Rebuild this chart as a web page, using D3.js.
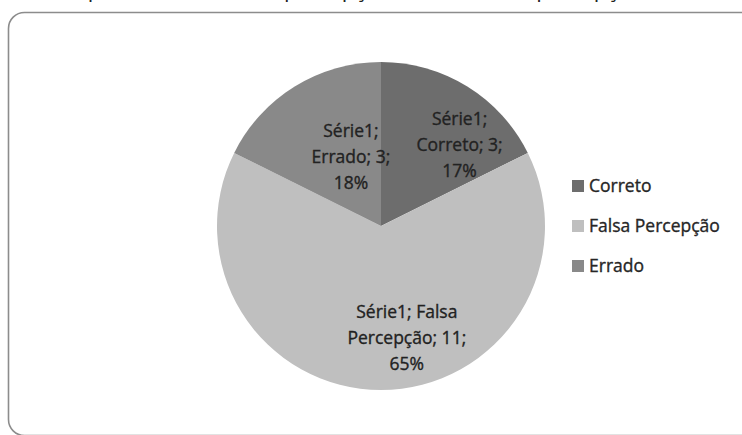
<!DOCTYPE html>
<html>
<head>
<meta charset="utf-8">
<script src="https://cdn.jsdelivr.net/npm/d3@7"></script>
<style>
  html, body { margin: 0; padding: 0; background: #fff; }
  svg { display: block; }
  text { font-family: "Open Sans", Lato, sans-serif; }
</style>
</head>
<body>
<svg id="chart" width="742" height="435"></svg>
<script>
// Respostas por categoria (Série1)
const categories = ["Correto", "Falsa Percepção", "Errado"];
const values = [3, 11, 3];
const percentLabels = ["17%", "65%", "18%"];
const seriesName = "Série1";
const titleText = "Gráfico 4 – Respostas dos alunos: percepção correta, falsa percepção ou erro na questão";

const sliceColors = ["#6d6d6d", "#bfbfbf", "#898989"];

const svg = d3.select("#chart");
const W = 742, H = 435;

// title running off the top edge
svg.append("text")
  .attr("x", W / 2 + 20)
  .attr("y", -3)
  .attr("text-anchor", "middle")
  .attr("font-size", 22)
  .attr("fill", "#222")
  .text(titleText);

// chart area frame
svg.append("rect")
  .attr("x", 8.5).attr("y", 12.5)
  .attr("width", 760).attr("height", 423)
  .attr("rx", 16).attr("ry", 16)
  .attr("fill", "#fff")
  .attr("stroke", "#8c8c8c")
  .attr("stroke-width", 1.6);

const cx = 381, cy = 226, R = 164;

const pie = d3.pie().sort(null).value(d => d.value);
const data = categories.map((c, i) => ({ name: c, value: values[i], pct: percentLabels[i], color: sliceColors[i] }));
const arcs = pie(data);
const arc = d3.arc().innerRadius(0).outerRadius(R);

const g = svg.append("g").attr("transform", `translate(${cx},${cy})`);

g.selectAll("path.slice")
  .data(arcs)
  .join("path")
  .attr("class", "slice")
  .attr("d", arc)
  .attr("fill", d => d.data.color);

// data labels: series; category; value; percentage
const labelLines = [
  d => [seriesName + ";", d.data.name + "; " + d.data.value + ";", d.data.pct],
  d => [seriesName + "; Falsa", "Percepção; " + d.data.value + ";", d.data.pct],
  d => [seriesName + ";", d.data.name + "; " + d.data.value + ";", d.data.pct]
];
// label anchor: angle (deg, clockwise from top) and distance from centre as share of radius
const labelAngle = [44, 167, -23.5];
const labelDist = [0.69, 0.70, 0.46];
const lineH = 26;

arcs.forEach((a, i) => {
  const ang = labelAngle[i] * Math.PI / 180;
  const r = R * labelDist[i];
  const x = Math.sin(ang) * r;
  const y = -Math.cos(ang) * r;
  const lines = labelLines[i](a);
  const t = g.append("text")
    .attr("text-anchor", "middle")
    .attr("font-size", 17.5)
    .attr("fill", "#222")
    .attr("stroke", "#222")
    .attr("stroke-width", 0.35);
  lines.forEach((ln, k) => {
    t.append("tspan")
      .attr("x", x)
      .attr("y", y + (k - (lines.length - 1) / 2) * lineH)
      .attr("dy", "0.35em")
      .text(ln);
  });
});

// legend
const legend = svg.append("g").attr("transform", "translate(572,186)");
const item = legend.selectAll("g.item")
  .data(data)
  .join("g")
  .attr("class", "item")
  .attr("transform", (d, i) => `translate(0,${i * 40})`);
item.append("rect")
  .attr("x", 0).attr("y", -6)
  .attr("width", 12).attr("height", 12)
  .attr("fill", d => d.color);
item.append("text")
  .attr("x", 17)
  .attr("y", 0)
  .attr("dy", "0.35em")
  .attr("font-size", 17.5)
  .attr("fill", "#262626")
  .attr("stroke", "#262626")
  .attr("stroke-width", 0.35)
  .text(d => d.name);
</script>
</body>
</html>
